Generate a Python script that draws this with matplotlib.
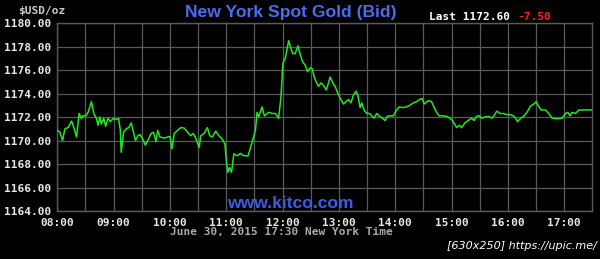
import matplotlib
matplotlib.use("Agg")
import matplotlib.pyplot as plt

# minutes after 08:00 (New York time)
minutes = [0, 2.8, 5.6, 8.1, 11.6, 15.2, 17.6, 20.5, 23.3, 25.8, 27.5, 30.4, 32.8, 36.4, 38.8,
           41.6, 43.4, 45.2, 46.9, 49.4, 51.5, 54.0, 56.5, 59.3, 62.8, 65.3, 67.1, 68.1, 70.6,
           73.4, 76.2, 78.7, 81.2, 83.3, 85.8, 88.2, 91.1, 93.9, 96.4, 99.9, 102.4, 105.2,
           106.9, 109.4, 114.0, 117.5, 120.0, 122.1, 124.6, 128.1, 131.6, 135.2, 138.7, 142.2,
           144.7, 147.5, 151.1, 152.8, 156.4, 159.9, 162.4, 165.2, 168.7, 172.2, 175.8, 178.6,
           180.4, 181.8, 183.5, 185.6, 188.1, 191.6, 195.2, 198.7, 203.3, 205.8,
           211.1, 212.8, 214.6, 218.1, 220.6, 225.2, 228.8, 232.3, 235.8, 238.3, 240.4, 242.9,
           246.5, 248.2, 250.7, 253.5, 256.4, 258.9, 261.3, 264.2, 266.6, 269.5, 271.6, 273.7,
           275.8, 278.3, 280.8, 283.6, 286.5, 288.9, 290.7, 293.5, 296.0, 298.5, 301.3, 304.9,
           307.7, 310.2, 312.7, 315.5, 318.3, 320.1, 322.6, 324.3, 326.8, 329.7, 332.5, 335.0,
           337.4, 340.3, 343.1, 346.6, 349.1, 351.6, 354.4, 358.0, 361.5, 364.3, 367.9, 372.1,
           375.7, 379.2, 382.7, 386.3, 388.8, 390.9, 393.4, 395.9, 398.7, 401.2, 404.0, 406.8,
           411.1, 414.6, 418.2, 421.0,
           425.4, 428.2, 430.7, 434.3, 437.9, 441.4, 443.9, 446.8, 449.6, 452.1, 455.7, 459.3,
           462.8, 465.3, 468.2, 471.8, 475.3, 478.9, 482.5, 486.0, 488.6, 490.3, 493.2, 496.8,
           500.4, 503.9, 507.5, 510.3, 512.8, 515.3, 520.0, 523.5, 527.1, 530.7, 534.3, 537.8,
           541.4, 543.9, 546.1, 548.6, 552.1, 555.7, 559.3, 564.6, 570.0]

prices = [1170.86, 1170.7, 1170.0, 1171.0, 1171.1, 1171.66, 1171.1, 1170.3, 1172.3, 1171.86,
          1172.1, 1172.1, 1172.4, 1173.3, 1172.3, 1171.9, 1171.3, 1172.0, 1171.4, 1171.9,
          1171.2, 1171.9, 1171.6, 1171.86, 1171.8, 1171.86, 1170.9, 1169.0, 1170.7, 1171.0,
          1171.1, 1171.5, 1170.7, 1170.0, 1170.4, 1170.5, 1170.1, 1169.6, 1170.0, 1170.6,
          1170.7, 1169.9, 1170.86, 1170.3, 1170.2, 1170.3, 1170.34, 1169.3, 1170.6, 1170.86,
          1171.1, 1171.06, 1170.7, 1170.4, 1170.6, 1170.2, 1169.4, 1170.4, 1170.6, 1171.1,
          1170.4, 1170.3, 1170.8, 1170.4, 1170.1, 1169.7, 1168.0, 1167.3, 1167.7, 1167.3,
          1168.86, 1168.7, 1168.9, 1168.7, 1168.7, 1169.4,
          1170.86, 1172.4, 1172.0, 1172.86, 1172.1, 1172.4, 1172.3, 1172.3, 1171.9, 1173.7,
          1176.6, 1177.0, 1178.5, 1178.0, 1177.4, 1177.4, 1178.06, 1177.3, 1176.7, 1176.4,
          1175.86, 1176.2, 1176.1, 1175.4, 1175.0, 1174.6, 1174.9, 1174.7, 1174.3, 1174.9,
          1175.4, 1174.9, 1174.6, 1174.1, 1173.6, 1173.1, 1173.3, 1173.5, 1173.2, 1173.86,
          1174.2, 1173.86, 1172.8, 1173.2, 1172.6, 1172.3, 1172.3, 1172.1, 1171.9, 1172.3,
          1172.06, 1171.9, 1171.7, 1172.06, 1172.1, 1172.1, 1172.6, 1172.86, 1172.8, 1172.86,
          1173.0, 1173.2, 1173.3, 1173.5, 1173.57, 1173.1, 1173.3, 1173.4, 1173.3, 1172.86,
          1172.4, 1172.1, 1172.1, 1172.06, 1171.9, 1171.7,
          1171.1, 1171.3, 1171.1, 1171.5, 1171.7, 1171.9, 1171.7, 1172.06, 1172.1, 1171.9,
          1172.0, 1172.06, 1171.9, 1172.1, 1172.5, 1172.3, 1172.3, 1172.2, 1172.2, 1172.1,
          1171.86, 1171.6, 1171.86, 1172.06, 1172.4, 1172.9, 1173.1, 1173.3, 1172.9, 1172.6,
          1172.6, 1172.3, 1171.9, 1171.86, 1171.86, 1171.9, 1172.3, 1172.4, 1172.1, 1172.4,
          1172.3, 1172.6, 1172.6, 1172.6, 1172.6]

x_tick_minutes = [0, 60, 120, 180, 240, 300, 360, 420, 480, 540]
x_tick_labels = ["08:00", "09:00", "10:00", "11:00", "12:00", "13:00", "14:00",
                 "15:00", "16:00", "17:00"]
y_ticks = [1164, 1166, 1168, 1170, 1172, 1174, 1176, 1178, 1180]

title = "New York Spot Gold (Bid)"
last_text = "Last 1172.60"
change_text = "-7.50"
unit_text = "$USD/oz"
footer = "June 30, 2015 17:30 New York Time"
watermark = "www.kitco.com"
stamp = "[630x250] https://upic.me/"

mono = "DejaVu Sans Mono"
grid_col = "#5a5a5a"

fig = plt.figure(figsize=(6, 2.59), dpi=100, facecolor="black")
ax = fig.add_axes([0.0955, 0.1853, 0.8917, 0.7259], facecolor="black")

ax.plot(minutes, prices, color="#22e622", lw=1.1, zorder=3)

ax.set_xlim(0, 570)
ax.set_ylim(1164, 1180)

ax.set_xticks(x_tick_minutes)
ax.set_xticklabels(x_tick_labels)
ax.set_xticks(list(range(30, 570, 60)), minor=True)
ax.set_yticks(y_ticks)
ax.set_yticklabels([f"{v:.2f}" for v in y_ticks])

ax.tick_params(axis="both", which="both", length=0, colors="#e8e8e8")
ax.tick_params(axis="x", pad=5)
ax.tick_params(axis="y", pad=4)
for lab in ax.get_xticklabels() + ax.get_yticklabels():
    lab.set_fontfamily(mono)
    lab.set_fontweight("bold")
    lab.set_fontsize(8)

ax.grid(True, which="both", color=grid_col, lw=0.9, zorder=1)
for s in ax.spines.values():
    s.set_color(grid_col)
    s.set_linewidth(1.0)

fig.text(291 / 600, 1 - 12 / 259, title, color="#4a6cf0", fontsize=12.6,
         fontweight="bold", family="Liberation Sans", ha="center", va="center")
fig.text(18 / 600, 1 - 11 / 259, unit_text, color="#cccccc", fontsize=8,
         fontweight="bold", family=mono, ha="left", va="center")
fig.text(429 / 600, 1 - 16.5 / 259, last_text, color="white", fontsize=8,
         fontweight="bold", family=mono, ha="left", va="center")
fig.text(517 / 600, 1 - 16.5 / 259, change_text, color="#ff2020", fontsize=8,
         fontweight="bold", family=mono, ha="left", va="center")
fig.text(290 / 600, 1 - 204 / 259, watermark, color="#3a5ee8", fontsize=12.6,
         fontweight="bold", family="Liberation Sans", ha="center", va="center")
fig.text(281 / 600, 1 - 232 / 259, footer, color="#aaaaaa", fontsize=8,
         fontweight="bold", family=mono, ha="center", va="center")
fig.text(597 / 600, 1 - 246 / 259, stamp, color="white", fontsize=8,
         fontstyle="italic", family="DejaVu Sans", ha="right", va="center")

fig.savefig("out.png", dpi=100, facecolor="black")
